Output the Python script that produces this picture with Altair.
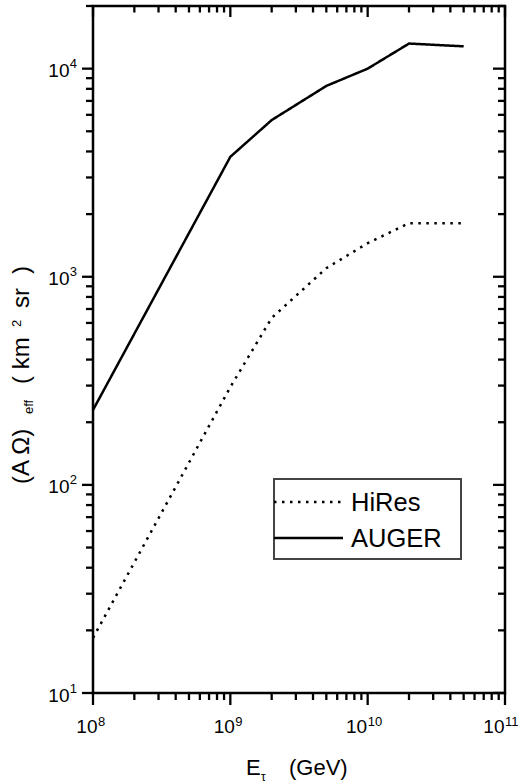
import math
import altair as alt
import pandas as pd

# ---- data ----
energy_gev = [1e8, 1e9, 2e9, 5e9, 1e10, 2e10, 5e10]
auger = [229, 3770, 5660, 8260, 10000, 13200, 12800]
hires = [18.4, 295, 634, 1100, 1450, 1810, 1810]
series = ["HiRes", "AUGER"]
series_dash = [[2.5, 5.5], [1, 0]]

x_major = [1e8, 1e9, 1e10, 1e11]
y_major = [1e1, 1e2, 1e3, 1e4]
minor_mult = [2, 3, 4, 5, 6, 7, 8, 9]

X_DOMAIN = [1e8, 1e11]
Y_DOMAIN = [10, 2e4]

x_minor = [m * d for d in x_major[:-1] for m in minor_mult]
y_minor = [m * d for d in y_major for m in minor_mult if m * d <= Y_DOMAIN[1]]

x_exp = [str(int(round(math.log10(v)))) for v in x_major]
y_exp = [str(int(round(math.log10(v)))) for v in y_major]

W, H = 412, 687
FONT = "Liberation Sans"
LAB = 19     # tick label size
SUPS = 13    # exponent size

df = pd.DataFrame({
    "E": energy_gev * 2,
    "A": hires + auger,
    "s": [series[0]] * len(hires) + [series[1]] * len(auger),
})

xs = alt.Scale(type="log", domain=X_DOMAIN, nice=False)
ys = alt.Scale(type="log", domain=Y_DOMAIN, nice=False)

lines = alt.Chart(df).mark_line(color="black", strokeWidth=2.5, strokeCap="butt").encode(
    x=alt.X("E:Q", scale=xs, axis=None),
    y=alt.Y("A:Q", scale=ys, axis=None),
    strokeDash=alt.StrokeDash("s:N", scale=alt.Scale(domain=series, range=series_dash), legend=None),
)

def xticks(vals, y0, y1):
    return alt.Chart(pd.DataFrame({"v": vals})).mark_rule(color="black", strokeWidth=2.3).encode(
        x=alt.X("v:Q", scale=xs, axis=None), y=alt.value(y0), y2=alt.value(y1))

def yticks(vals, x0, x1):
    return alt.Chart(pd.DataFrame({"v": vals})).mark_rule(color="black", strokeWidth=2.3).encode(
        y=alt.Y("v:Q", scale=ys, axis=None), x=alt.value(x0), x2=alt.value(x1))

ticks = [
    xticks(x_major, H, H + 12), xticks(x_minor, H, H + 7),
    xticks(x_major, 0, 11), xticks(x_minor, 0, 6.5),
    yticks(y_major, -11, 0), yticks(y_minor, -7, 0),
    yticks(y_major, W - 12, W), yticks(y_minor, W - 7, W),
]

# tick labels "10" + raised exponent, placed through the scales
xdf = pd.DataFrame({"v": x_major, "exp": x_exp})
ydf = pd.DataFrame({"v": y_major, "exp": y_exp})

def xlabel_layers(cond, dx):
    base = alt.Chart(xdf).transform_filter(cond).mark_text(
        font=FONT, fontSize=LAB, color="black", align="right", baseline="alphabetic", dx=dx).encode(
        x=alt.X("v:Q", scale=xs, axis=None), y=alt.value(H + 40), text=alt.value("10"))
    sup = alt.Chart(xdf).transform_filter(cond).mark_text(
        font=FONT, fontSize=SUPS, color="black", align="left", baseline="alphabetic", dx=dx + 0.5).encode(
        x=alt.X("v:Q", scale=xs, axis=None), y=alt.value(H + 32.5), text="exp:N")
    return [base, sup]

xlabels = (xlabel_layers("length(datum.exp) == 1", 4.5)
           + xlabel_layers("length(datum.exp) > 1", -0.5))

ylabels = [
    alt.Chart(ydf).mark_text(font=FONT, fontSize=LAB, color="black", align="right",
                             baseline="alphabetic", dx=-23.5).encode(
        y=alt.Y("v:Q", scale=ys, axis=None), x=alt.value(0), text=alt.value("10"), yOffset=alt.value(8.5)),
    alt.Chart(ydf).mark_text(font=FONT, fontSize=SUPS, color="black", align="right",
                             baseline="alphabetic", dx=-16).encode(
        y=alt.Y("v:Q", scale=ys, axis=None), x=alt.value(0), text="exp:N", yOffset=alt.value(-0.5)),
]

one = alt.Data(values=[{}])

def txt(s, x, y, size, angle=0):
    return alt.Chart(one).mark_text(font=FONT, fontSize=size, color="black", align="left",
                                     baseline="alphabetic", angle=angle).encode(
        x=alt.value(x), y=alt.value(y), text=alt.value(s))

titles = [
    # x title: E_tau (GeV)
    txt("E", 153, H + 82, 22), txt("τ", 168, H + 88, 12), txt("(GeV)", 196, H + 82, 22),
    # y title: (A Omega)_eff ( km^2 sr )
    txt("(A Ω)", -64, 478, 24, 270), txt("eff", -60, 408, 13, 270),
    txt("( km", -64, 378, 24, 270), txt("2", -72, 321, 13, 270),
    txt("sr", -64, 302, 24, 270), txt(")", -64, 268, 24, 270),
]

# legend box
LX0, LX1, LY0, LY1 = 181, 368, 473, 553
row_y = [496, 532]
legend = [alt.Chart(one).mark_rect(fill="white", stroke="#444", strokeWidth=2).encode(
    x=alt.value(LX0), x2=alt.value(LX1), y=alt.value(LY0), y2=alt.value(LY1))]
for name, dash, yy in zip(series, series_dash, row_y):
    legend.append(alt.Chart(one).mark_rule(color="black", strokeWidth=2.5, strokeDash=dash).encode(
        x=alt.value(LX0), x2=alt.value(LX0 + 69), y=alt.value(yy)))
    legend.append(alt.Chart(one).mark_text(font=FONT, fontSize=25.5, color="black", align="left",
                                            baseline="middle").encode(
        x=alt.value(LX0 + 77), y=alt.value(yy + 1), text=alt.value(name)))

chart = alt.layer(lines, *ticks, *xlabels, *ylabels, *titles, *legend).properties(
    width=W, height=H,
    padding={"left": 93, "top": 6, "right": 17, "bottom": 90},
    autosize=alt.AutoSizeParams(type="none"),
).configure_view(stroke="black", strokeWidth=2.5)

chart.save("out.html", embed_options={"renderer": "svg", "actions": False})
